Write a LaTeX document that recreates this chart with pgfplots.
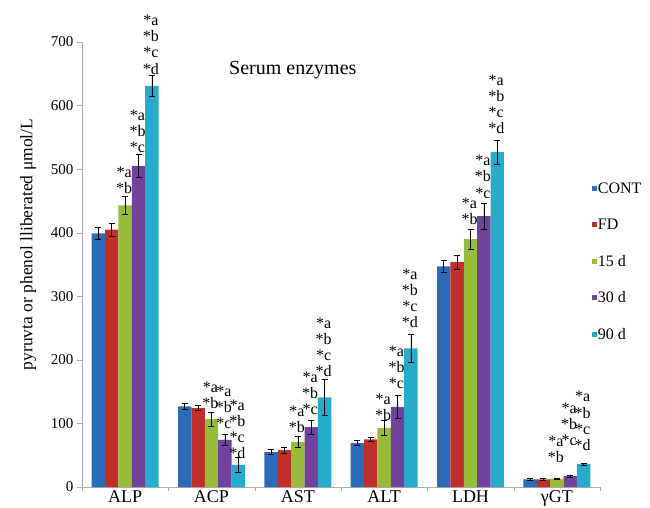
\documentclass[border=0pt]{standalone}
\usepackage{fontspec}
\setmainfont{Liberation Serif}
\usepackage{pgfplots}
\pgfplotsset{compat=1.18}
\definecolor{cCONT}{RGB}{44,106,186}
\definecolor{cFD}{RGB}{192,46,44}
\definecolor{cA}{RGB}{152,188,58}
\definecolor{cB}{RGB}{112,66,156}
\definecolor{cC}{RGB}{40,170,202}
\definecolor{axgray}{RGB}{170,170,170}
\newcommand\ann[3]{\node[anchor=south,inner sep=0pt,align=center,font=\fontsize{16}{16.2}\selectfont,xshift=-1pt] at (axis cs:#1,#2) {#3};}
\begin{document}
\begin{tikzpicture}
\useasboundingbox (-82pt,-20pt) rectangle (568pt,487pt);
\begin{axis}[
  scale only axis, width=518pt, height=445pt,
  xmin=-0.5, xmax=5.5, ymin=0, ymax=700,
  axis lines*=left,
  axis line style={draw=axgray, line width=0.8pt},
  ybar=0pt, bar width=0.155,
  clip=false,
  xtick={0,...,5},
  xticklabels={ALP,ACP,AST,ALT,LDH,γGT},
  major x tick style={draw=none},
  minor xtick={-0.5,0.5,1.5,2.5,3.5,4.5,5.5},
  minor x tick style={draw=axgray},
  minor tick length=4pt,
  ytick={0,100,...,700},
  major y tick style={draw=axgray},
  major tick length=5pt,
  tick align=outside,
  x tick label style={font=\fontsize{18}{18}\selectfont, inner sep=0pt, yshift=1.5pt},
  y tick label style={font=\fontsize{15}{16}\selectfont},
  /pgf/number format/assume math mode=true,
  ylabel={pyruvta or phenol lliberated μmol/L},
  ylabel style={at={(axis description cs:-0.104,0.545)}, anchor=center, font=\fontsize{17.5}{18}\selectfont},
  legend style={at={(rel axis cs:0.985,0.685)}, anchor=north west, draw=none, fill=none, inner sep=0pt,
     row sep=23pt, font=\fontsize{16}{17}\selectfont, nodes={inner sep=0.5pt}},
  legend cell align=left,
  legend image code/.code={\path[fill,#1,draw=none] (0pt,-2.5pt) rectangle (5pt,2.5pt);},
  error bars/y dir=both, error bars/y explicit,
  error bars/error bar style={black, line width=0.6pt},
  error bars/error mark options={rotate=90, mark size=3pt, black, line width=0.6pt},
]
\addplot[fill=cCONT, draw=none] table[x=x,y=y,y error=e] {
x y e
0 399 10
1 127 5
2 55 4
3 69 4
4 347 9
5 12 1
};
\addplot[fill=cFD, draw=none] table[x=x,y=y,y error=e] {
x y e
0 405 10
1 124 4
2 58 5
3 75 3
4 354 11
5 12 1
};
\addplot[fill=cA, draw=none] table[x=x,y=y,y error=e] {
x y e
0 443 14
1 107 11
2 71 8
3 93 12
4 390 16
5 13 1
};
\addplot[fill=cB, draw=none] table[x=x,y=y,y error=e] {
x y e
0 505 18
1 74 9
2 94 11
3 126 18
4 426 20
5 17 1.5
};
\addplot[fill=cC, draw=none] table[x=x,y=y,y error=e] {
x y e
0 631 17
1 35 12
2 141 28
3 218 22
4 527 19
5 36 2
};
\legend{CONT,FD,15 d,30 d,90 d}
\node[font=\fontsize{20}{22}\selectfont] at (rel axis cs:0.407,0.937) {Serum enzymes};
\ann{0}{461}{*a\\*b}
\ann{0.155}{525}{*a\\*b\\*c}
\ann{0.31}{649}{*a\\*b\\*c\\*d}
\ann{1}{123}{*a\\*b}
\ann{1.155}{91}{*a\\*b\\*c}
\ann{1.31}{44}{*a\\*b\\*c\\*d}
\ann{2}{85}{*a\\*b}
\ann{2.155}{113}{*a\\*b\\*c}
\ann{2.31}{173}{*a\\*b\\*c\\*d}
\ann{3}{104}{*a\\*b}
\ann{3.155}{154}{*a\\*b\\*c}
\ann{3.31}{250}{*a\\*b\\*c\\*d}
\ann{4}{412}{*a\\*b}
\ann{4.155}{454}{*a\\*b\\*c}
\ann{4.31}{555}{*a\\*b\\*c\\*d}
\ann{5}{38}{*a\\*b}
\ann{5.155}{64}{*a\\*b\\*c}
\ann{5.31}{57}{*a\\*b\\*c\\*d}
\end{axis}
\end{tikzpicture}
\end{document}
